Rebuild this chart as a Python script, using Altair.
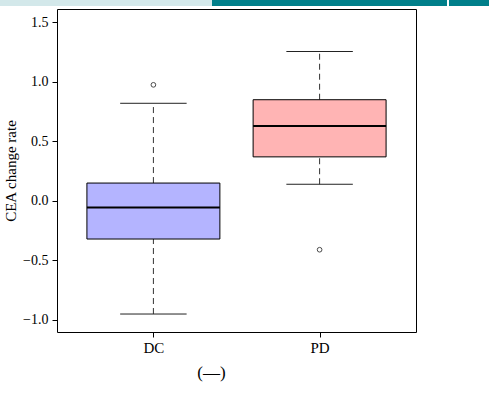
import altair as alt
import pandas as pd

# ---- data ----
groups = ["DC", "PD"]
group_pos = [1, 2]
lower_whisker = [-0.95, 0.14]
q1 = [-0.32, 0.37]
median = [-0.055, 0.63]
q3 = [0.15, 0.85]
upper_whisker = [0.82, 1.255]
box_colors = ["#b4b4ff", "#ffb4b4"]

outlier_groups = ["DC", "PD"]
outlier_values = [0.975, -0.41]

y_ticks = [-1.0, -0.5, 0.0, 0.5, 1.0, 1.5]

BOX_HALF = 0.4
CAP_HALF = 0.2

stats = pd.DataFrame({
    "group": groups,
    "pos": group_pos,
    "lw": lower_whisker,
    "q1": q1,
    "med": median,
    "q3": q3,
    "uw": upper_whisker,
    "color": box_colors,
})
stats["bx1"] = stats["pos"] - BOX_HALF
stats["bx2"] = stats["pos"] + BOX_HALF
stats["cx1"] = stats["pos"] - CAP_HALF
stats["cx2"] = stats["pos"] + CAP_HALF

pos_map = dict(zip(groups, group_pos))
outl = pd.DataFrame({
    "group": outlier_groups,
    "pos": [pos_map[g] for g in outlier_groups],
    "value": outlier_values,
})

FONT = "Liberation Serif"
xscale = alt.Scale(domain=[0.42, 2.58], nice=False, zero=False)
yscale = alt.Scale(domain=[-1.101, 1.612], nice=False, zero=False)

label_expr = "datum.value == 1 ? 'DC' : (datum.value == 2 ? 'PD' : '')"
y_label_expr = "replace(format(datum.value, '.1f'), '-', '\u2212')"

base = alt.Chart(stats)

x_axis = alt.Axis(
    values=group_pos, labelExpr=label_expr, title="(—)", domain=False,
    tickSize=5, tickColor="black", labelFont=FONT, labelFontSize=15,
    labelColor="black", labelPadding=3, grid=False,
    titleFont=FONT, titleFontSize=17, titleFontWeight="normal", titleColor="black",
    titleX=154, titleY=45, titleAlign="center", titleBaseline="alphabetic",
)
y_axis = alt.Axis(
    values=y_ticks, labelExpr=y_label_expr, title="CEA change rate", domain=False,
    tickSize=5, tickColor="black", labelFont=FONT, labelFontSize=14,
    labelColor="black", labelPadding=4, grid=False,
    titleFont=FONT, titleFontSize=15, titleFontWeight="normal", titleColor="black",
    titlePadding=4,
)

whisk_up = base.mark_rule(color="#333333", strokeDash=[6, 4], strokeWidth=1).encode(
    x=alt.X("pos:Q", scale=xscale, axis=x_axis),
    y=alt.Y("q3:Q", scale=yscale, axis=y_axis),
    y2="uw:Q",
)
whisk_dn = base.mark_rule(color="#333333", strokeDash=[6, 4], strokeWidth=1).encode(
    x="pos:Q", y="lw:Q", y2="q1:Q",
)
cap_up = base.mark_rule(color="#222222", strokeWidth=1).encode(
    x="cx1:Q", x2="cx2:Q", y="uw:Q",
)
cap_dn = base.mark_rule(color="#222222", strokeWidth=1).encode(
    x="cx1:Q", x2="cx2:Q", y="lw:Q",
)
box = base.mark_rect(stroke="black", strokeWidth=1).encode(
    x="bx1:Q", x2="bx2:Q", y="q1:Q", y2="q3:Q",
    fill=alt.Fill("color:N", scale=None),
)
med = base.mark_rule(color="black", strokeWidth=2).encode(
    x="bx1:Q", x2="bx2:Q", y="med:Q",
)
pts = alt.Chart(outl).mark_point(shape="circle", filled=False, color="black",
                                  size=22, strokeWidth=1).encode(
    x="pos:Q", y="value:Q",
)

# decorative header strip of the page
deco_light = base.mark_rect(color="#d3e8ea").encode(
    x=alt.value(-57), x2=alt.value(155), y=alt.value(-9), y2=alt.value(-3))
deco_dark1 = base.mark_rect(color="#007f8a").encode(
    x=alt.value(155), x2=alt.value(390), y=alt.value(-9), y2=alt.value(-3))
deco_dark2 = base.mark_rect(color="#007f8a").encode(
    x=alt.value(392), x2=alt.value(432), y=alt.value(-9), y2=alt.value(-3))

chart = alt.layer(
    deco_light, deco_dark1, deco_dark2,
    whisk_up, whisk_dn, cap_up, cap_dn, box, med, pts,
).properties(
    width=359, height=323,
    autosize=alt.AutoSizeParams(type="none"),
    padding={"left": 57, "top": 9, "right": 73, "bottom": 63},
    background="white",
).configure_view(
    stroke="black", strokeWidth=1,
)

chart.save("out.html", embed_options={"renderer": "svg", "actions": False})
